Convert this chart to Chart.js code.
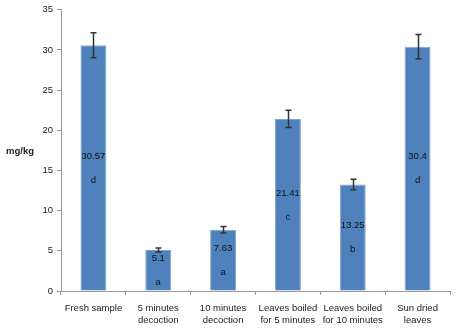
<!DOCTYPE html>
<html>
<head>
<meta charset="utf-8">
<script src="https://cdn.jsdelivr.net/npm/chart.js@4/dist/chart.umd.min.js"></script>
<style>
html,body{margin:0;padding:0;background:#fff;}
#wrap{width:457px;height:329px;position:relative;}
</style>
</head>
<body>
<div id="wrap"><canvas id="c"></canvas></div>
<script>
const categories = [["Fresh sample"], ["5 minutes", "decoction"], ["10 minutes", "decoction"], ["Leaves boiled", "for 5 minutes"], ["Leaves boiled", "for 10 minutes"], ["Sun dried", "leaves"]];
const values = [30.57, 5.1, 7.63, 21.41, 13.25, 30.4];
const errors = [1.55, 0.25, 0.4, 1.07, 0.65, 1.5];
const letters = ["d", "a", "a", "c", "b", "d"];
const valueLabels = ["30.57", "5.1", "7.63", "21.41", "13.25", "30.4"];
const yTitle = "mg/kg";

const FONT = "'Liberation Sans', Arial, sans-serif";

const overlay = {
  id: 'overlay',
  afterDatasetsDraw(chart) {
    const ctx = chart.ctx;
    const ys = chart.scales.y;
    const meta = chart.getDatasetMeta(0);
    ctx.save();
    meta.data.forEach((bar, i) => {
      const x = Math.round(bar.x) + 0.5;
      const yt = ys.getPixelForValue(values[i] + errors[i]);
      const yb = ys.getPixelForValue(values[i] - errors[i]);
      ctx.strokeStyle = '#333';
      ctx.lineWidth = 1.5;
      ctx.beginPath();
      ctx.moveTo(x, yt); ctx.lineTo(x, yb);
      ctx.moveTo(x - 3, yt); ctx.lineTo(x + 3, yt);
      ctx.moveTo(x - 3, yb); ctx.lineTo(x + 3, yb);
      ctx.stroke();
    });
    ctx.fillStyle = '#111';
    ctx.textAlign = 'center';
    ctx.textBaseline = 'middle';
    ctx.font = '9.5px ' + FONT;
    meta.data.forEach((bar, i) => {
      const top = ys.getPixelForValue(values[i]);
      const base = ys.getPixelForValue(0);
      const mid = (top + base) / 2;
      ctx.fillText(valueLabels[i], bar.x, mid - 12);
      ctx.fillText(letters[i], bar.x, mid + 12);
    });
    ctx.fillStyle = '#222';
    ctx.font = 'bold 9.5px ' + FONT;
    ctx.fillText(yTitle, 20, 151);
    ctx.restore();
  }
};

new Chart(document.getElementById('c'), {
  type: 'bar',
  data: {
    labels: categories,
    datasets: [{
      data: values,
      backgroundColor: '#4F81BD',
      borderColor: '#7FA3CF',
      borderWidth: 1,
      categoryPercentage: 1,
      barPercentage: 0.4
    }]
  },
  options: {
    responsive: true,
    maintainAspectRatio: false,
    animation: false,
    layout: { padding: { top: 5, right: 7, left: 0, bottom: 0 } },
    plugins: { legend: { display: false }, tooltip: { enabled: false } },
    scales: {
      x: {
        offset: true,
        afterFit(s) { s.height = 38; },
        grid: { display: true, drawOnChartArea: false, offset: true, tickLength: 4, color: '#999' },
        border: { color: '#999' },
        ticks: { color: '#222', font: { family: FONT, size: 9.5 }, padding: 8, maxRotation: 0, autoSkip: false }
      },
      y: {
        min: 0, max: 35,
        afterFit(s) { s.width = 61; },
        grid: { display: true, drawOnChartArea: false, tickLength: 4, color: '#999' },
        border: { color: '#999' },
        ticks: { stepSize: 5, color: '#222', font: { family: FONT, size: 9.5 }, padding: 4 }
      }
    }
  },
  plugins: [overlay]
});
</script>
</body>
</html>
